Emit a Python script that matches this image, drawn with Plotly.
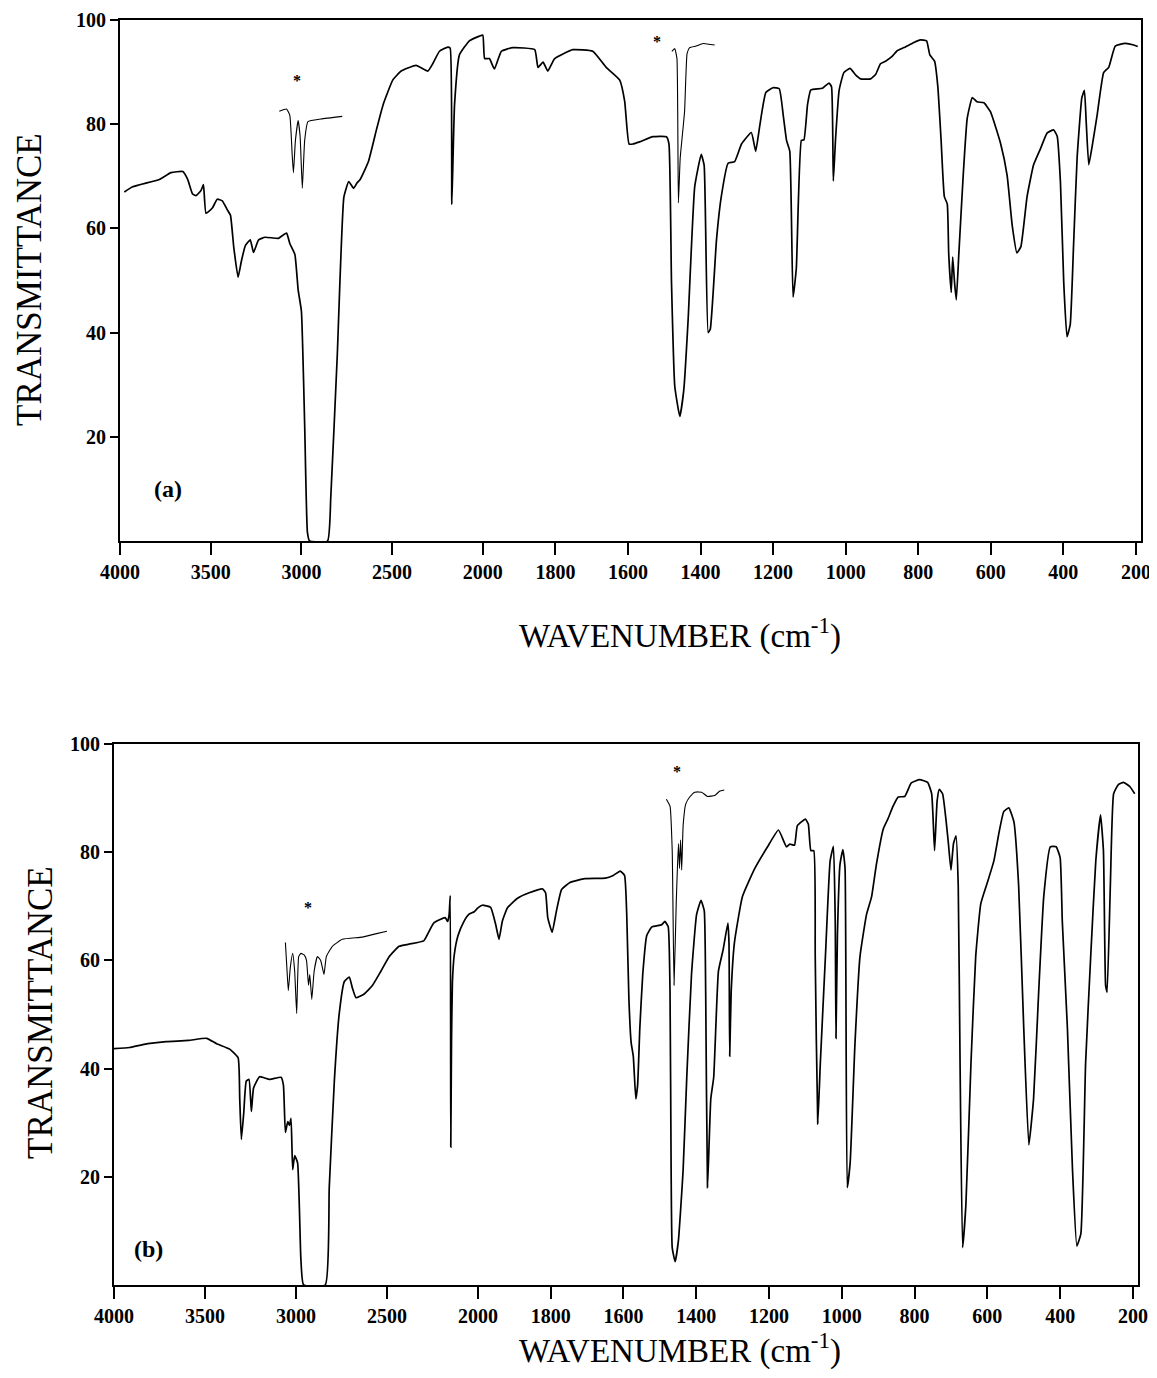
import plotly.graph_objects as go
import numpy as np

# ---------------- DATA ----------------
# Panel (a) main spectrum: wavenumber (cm-1), transmittance (%)
wn_a = [3976, 3930, 3783, 3719, 3654, 3627, 3600, 3581, 3553, 3540, 3526, 3491, 3464, 3436,
        3409, 3391, 3373, 3349, 3331, 3309, 3282, 3264, 3236, 3200, 3127, 3082, 3064, 3036,
        3018, 3000, 2982, 2967, 2955, 2856, 2838, 2802, 2766, 2739, 2712, 2694, 2676, 2631,
        2586, 2550, 2496, 2450, 2368, 2303, 2276, 2239, 2193, 2180, 2171, 2156, 2129, 2074,
        2019, 2000, 1995, 1982, 1968, 1949, 1917, 1857, 1848, 1834, 1821, 1802, 1752, 1697,
        1660, 1623, 1609, 1597, 1586, 1568, 1531, 1494, 1487, 1480, 1471, 1457, 1446, 1434,
        1416, 1398, 1390, 1379, 1373, 1356, 1343, 1324, 1306, 1287, 1260, 1248, 1237, 1220,
        1200, 1183, 1172, 1163, 1154, 1145, 1136, 1122, 1115, 1105, 1096, 1064, 1046, 1039,
        1034, 1028, 1018, 1005, 988, 972, 959, 931, 917, 904, 890, 872, 858, 839, 812, 794,
        777, 768, 755, 746, 737, 728, 720, 716, 709, 705, 700, 695, 688, 676, 665, 651, 638,
        619, 601, 573, 555, 541, 528, 517, 500, 482, 463, 445, 427, 417, 408, 399, 390, 381,
        372, 362, 349, 342, 337, 330, 321, 307, 289, 275, 257, 230, 206, 195]
t_a = [67.0, 68.0, 69.4, 70.7, 70.9, 69.4, 66.6, 66.3, 67.3, 68.4, 62.9, 63.9, 65.6, 65.3,
       63.6, 62.5, 56.4, 50.6, 53.7, 56.7, 57.8, 55.4, 57.8, 58.3, 58.1, 59.1, 57.1, 55.0,
       48.2, 44.1, 22.2, 1.7, 0.0, 0.0, 8.5, 35.9, 66.0, 69.0, 67.7, 68.7, 69.4, 72.8,
       79.0, 83.7, 88.5, 90.2, 91.3, 90.2, 91.6, 94.0, 94.8, 94.6, 64.6, 83.7, 93.3, 96.0,
       96.9, 97.1, 92.6, 92.6, 90.6, 94.0, 94.7, 94.3, 90.9, 91.9, 90.2, 92.6, 94.3, 94.0,
       90.9, 88.5, 84.4, 76.2, 76.2, 76.6, 77.6, 77.6, 76.2, 49.6, 29.7, 23.9, 29.1, 42.7,
       68.0, 74.2, 72.1, 40.0, 40.7, 57.8, 66.0, 72.5, 72.8, 76.2, 78.4, 74.8, 79.6, 86.1,
       87.0, 86.8, 81.7, 76.9, 74.8, 46.8, 52.3, 76.9, 77.0, 83.8, 86.6, 86.9, 87.9, 87.2,
       69.1, 77.0, 86.5, 89.9, 90.7, 89.4, 88.7, 88.7, 89.6, 91.6, 92.1, 93.0, 94.1, 94.7, 95.7, 96.2,
       96.0, 93.3, 92.1, 87.2, 77.0, 66.1, 64.7, 55.2, 47.7, 54.5, 49.7, 46.3, 55.2, 70.2, 81.1, 85.1, 84.3,
       84.1, 82.4, 76.3, 70.2, 60.6, 55.3, 56.5, 66.1, 72.2, 75.3, 78.3, 78.9, 77.7, 68.8, 49.7, 39.2, 41.6,
       56.5, 73.6, 85.1, 86.5, 80.4, 72.2, 75.6, 81.7, 89.9, 90.9, 95.0, 95.5, 95.2, 94.9]

# Panel (a) expanded inserts (marked *)
wn_a_ins1 = [3122, 3082, 3064, 3051, 3044, 3033, 3018, 3007, 2995, 2982, 2964, 2892, 2775]
t_a_ins1 = [82.5, 82.9, 81.7, 74.2, 70.7, 76.9, 80.7, 77.6, 67.7, 76.9, 80.5, 81.0, 81.5]
wn_a_ins2 = [1479, 1471, 1465, 1461, 1456, 1444, 1437, 1430, 1412, 1393, 1361]
t_a_ins2 = [94.0, 94.5, 92.6, 64.9, 73.5, 82.4, 93.6, 94.7, 95.0, 95.5, 95.2]

# Panel (b) main spectrum
wn_b = [4000, 3915, 3814, 3713, 3591, 3491, 3436, 3364, 3318, 3309, 3300, 3287, 3273, 3258,
        3245, 3233, 3200, 3145, 3082, 3069, 3058, 3045, 3036, 3027, 3018, 3007, 2991, 2973,
        2958, 2839, 2817, 2789, 2762, 2734, 2707, 2689, 2670, 2625, 2579, 2533, 2487, 2433,
        2379, 2298, 2280, 2243, 2180, 2166, 2158, 2152, 2149, 2145, 2140, 2130, 2110, 2080,
        2050, 2020, 2000, 1988, 1965, 1951, 1942, 1933, 1919, 1891, 1859, 1822, 1814, 1808,
        1796, 1784, 1770, 1747, 1706, 1650, 1628, 1609, 1597, 1591, 1585, 1579, 1573, 1566,
        1561, 1555, 1547, 1536, 1522, 1495, 1486, 1477, 1472, 1469, 1466, 1458, 1449, 1436,
        1426, 1413, 1399, 1387, 1378, 1374, 1369, 1360, 1352, 1339, 1326, 1313, 1310, 1308,
        1304, 1295, 1273, 1239, 1204, 1174, 1152, 1143, 1130, 1122, 1100, 1092, 1085, 1077,
        1073, 1066, 1059, 1045, 1032, 1023, 1018, 1016, 1012, 1005, 997, 991, 985, 977, 964,
        950, 932, 918, 905, 886, 873, 859, 845, 827, 809, 786, 764, 753, 745, 738, 732, 723,
        714, 707, 700, 693, 686, 680, 675, 668, 659, 645, 632, 618, 600, 582, 568, 555, 541,
        527, 514, 500, 486, 473, 459, 445, 427, 411, 400, 394, 380, 366, 354, 343, 330, 316,
        302, 289, 281, 275, 271, 262, 253, 240, 226, 208, 195]
t_b = [43.7, 43.9, 44.6, 45.0, 45.2, 45.6, 44.6, 43.6, 42.0, 34.4, 26.9, 31.8, 37.7, 38.0,
       32.1, 36.4, 38.5, 38.0, 38.4, 37.0, 28.2, 30.2, 29.5, 30.8, 21.3, 23.9, 22.6, 4.9,
       0.0, 0.0, 18.0, 37.7, 50.2, 56.1, 56.9, 54.8, 53.1, 53.8, 55.4, 58.0, 60.7, 62.6,
       63.0, 63.6, 64.6, 66.9, 67.9, 67.2, 68.5, 72.0, 25.5, 45.0, 56.0, 61.0, 64.5, 67.0,
       68.5, 69.0, 69.7, 70.2, 69.8, 66.6, 63.9, 67.2, 69.7, 71.5, 72.5, 73.2, 72.5, 67.9,
       65.2, 69.2, 73.1, 74.4, 75.1, 75.2, 75.7, 76.5, 75.7, 68.5, 52.8, 44.9, 42.3, 34.4,
       37.0, 47.5, 57.4, 64.6, 66.2, 66.6, 67.2, 66.2, 54.1, 21.3, 6.9, 4.3, 8.2, 21.3,
       38.4, 57.4, 68.5, 71.1, 69.2, 54.1, 18.0, 34.4, 38.4, 58.0, 62.0, 66.9, 63.3, 42.3,
       54.1, 63.3, 71.8, 77.0, 81.0, 84.1, 81.0, 81.5, 81.3, 84.9, 86.1, 85.2, 80.3, 80.3,
       60.7, 29.8, 41.0, 60.7, 78.4, 81.1, 67.2, 45.6, 64.6, 77.7, 80.5, 77.0, 18.0, 22.6, 44.3,
       60.7, 68.5, 71.8, 77.7, 84.3, 86.2, 88.5, 90.2, 90.3, 92.8, 93.4, 92.9, 90.8, 80.3, 89.5, 91.6, 90.8,
       86.2, 81.6, 76.7, 81.6, 83.0, 73.8, 41.0, 6.9, 14.8, 41.0, 60.7, 70.5, 74.4, 78.4, 83.6, 87.5, 88.2,
       85.6, 73.8, 47.5, 25.9, 34.4, 54.1, 71.8, 81.0, 81.0, 79.0, 67.2, 47.5, 21.3, 7.2, 9.5, 41.0, 60.7,
       78.4, 86.9, 80.3, 55.4, 54.1, 73.8, 90.8, 92.5, 92.9, 92.1, 90.8]

# Panel (b) expanded inserts (marked *)
wn_b_ins1 = [3058, 3051, 3042, 3031, 3018, 3007, 2996, 2985, 2973, 2955, 2942, 2931, 2924,
             2913, 2900, 2882, 2864, 2846, 2833, 2800, 2745, 2636, 2563, 2500]
t_b_ins1 = [63.3, 59.3, 54.4, 58.7, 61.3, 58.0, 50.2, 60.7, 61.3, 61.0, 60.0, 55.4, 57.4,
            52.8, 58.0, 60.7, 60.0, 57.4, 60.7, 62.6, 63.9, 64.3, 64.9, 65.4]
wn_b_ins2 = [1482, 1472, 1466, 1461, 1455, 1449, 1446, 1443, 1440, 1436, 1429, 1418, 1404,
             1385, 1369, 1349, 1335, 1323]
t_b_ins2 = [89.8, 88.5, 80.3, 55.4, 70.5, 81.6, 77.0, 82.3, 76.7, 84.9, 88.9, 90.2, 91.1,
            91.1, 90.3, 90.5, 91.3, 91.5]

x_ticks = [4000, 3500, 3000, 2500, 2000, 1800, 1600, 1400, 1200, 1000, 800, 600, 400, 200]
y_ticks = [20, 40, 60, 80, 100]
star_a = [(3027, 88.3), (1520, 95.9)]
star_b = [(2933, 69.7), (1454, 94.9)]


# spectrometer abscissa: 4000-2000 at half the scale of 2000-200
def chart_x(wn):
    wn = np.asarray(wn, dtype=float)
    return np.where(wn >= 2000, (4000 - wn) / 2.0, 1000 + (2000 - wn))


# page body has an 8 px margin: the figure is offset and sized to fit the window
OFF = 8
W, H = 1157 - OFF, 1378 - 2 * OFF


def px(x):  # page x pixel -> paper fraction
    return (x - OFF) / W


def py(y):  # page y pixel -> paper fraction
    return 1 - (y - OFF) / H


FONT = "Liberation Serif"
fig = go.Figure()

line_main = dict(color="black", width=1.7, shape="spline", smoothing=0.4)
line_ins = dict(color="black", width=1.1, shape="spline", smoothing=0.4)

for ax, (wn, t, ins) in enumerate([
        (wn_a, t_a, [(wn_a_ins1, t_a_ins1), (wn_a_ins2, t_a_ins2)]),
        (wn_b, t_b, [(wn_b_ins1, t_b_ins1), (wn_b_ins2, t_b_ins2)])]):
    xa = "x" if ax == 0 else "x2"
    ya = "y" if ax == 0 else "y2"
    fig.add_trace(go.Scatter(x=chart_x(wn), y=t, mode="lines", line=line_main,
                             xaxis=xa, yaxis=ya, showlegend=False, hoverinfo="skip"))
    for iw, it in ins:
        fig.add_trace(go.Scatter(x=chart_x(iw), y=it, mode="lines", line=line_ins,
                                 xaxis=xa, yaxis=ya, showlegend=False, hoverinfo="skip"))

xdom = [[px(120), px(1141)], [px(114), px(1138)]]
ydom = [[py(541), py(20)], [py(1285), py(744)]]

axis_common = dict(showline=True, mirror=True, linecolor="black", linewidth=2,
                   showgrid=False, zeroline=False, ticks="outside", tickcolor="black",
                   tickwidth=2, automargin=False, ticklabeloverflow="allow")
tickfont = dict(family=FONT, size=20, color="black", weight="bold")

layout = dict(template="none", width=W, height=H, margin=dict(l=0, r=0, t=0, b=0),
              paper_bgcolor="white", plot_bgcolor="white", showlegend=False)
for i in range(2):
    xs = "xaxis" if i == 0 else "xaxis2"
    ys = "yaxis" if i == 0 else "yaxis2"
    layout[xs] = dict(axis_common, domain=xdom[i], range=[0, 2814],
                      tickvals=list(chart_x(x_ticks)), ticktext=[str(v) for v in x_ticks],
                      ticklen=12, tickfont=tickfont, anchor="y" if i == 0 else "y2")
    layout[ys] = dict(axis_common, domain=ydom[i], range=[0, 100], tickvals=y_ticks,
                      ticktext=[str(v) for v in y_ticks], ticklen=8, tickfont=tickfont,
                      anchor="x" if i == 0 else "x2")
fig.update_layout(**layout)

ytitle_font = dict(family=FONT, size=35, color="black")
xtitle_font = dict(family=FONT, size=33, color="black")
ctr = dict(xanchor="center", yanchor="middle", showarrow=False)
ann = []
# y-axis titles
ann.append(dict(ctr, x=px(29), y=py(280), xref="paper", yref="paper", text="TRANSMITTANCE",
                textangle=-90, font=ytitle_font))
ann.append(dict(ctr, x=px(40), y=py(1013), xref="paper", yref="paper", text="TRANSMITTANCE",
                textangle=-90, font=ytitle_font))
# x-axis titles
ann.append(dict(ctr, x=px(680), y=py(633), xref="paper", yref="paper",
                text="WAVENUMBER (cm<sup>-1</sup>)", font=xtitle_font))
ann.append(dict(ctr, x=px(680), y=py(1348), xref="paper", yref="paper",
                text="WAVENUMBER (cm<sup>-1</sup>)", font=xtitle_font))
# panel labels
lab_font = dict(family=FONT, size=24, color="black", weight="bold")
ann.append(dict(ctr, x=float(chart_x(3737)), y=9.9, xref="x", yref="y", text="(a)",
                font=lab_font))
ann.append(dict(ctr, x=float(chart_x(3808)), y=6.6, xref="x2", yref="y2", text="(b)",
                font=lab_font))
star_font = dict(family=FONT, size=16, color="black", weight="bold")
for w, t in star_a:
    ann.append(dict(ctr, x=float(chart_x(w)), y=t, xref="x", yref="y", text="*",
                    font=star_font))
for w, t in star_b:
    ann.append(dict(ctr, x=float(chart_x(w)), y=t, xref="x2", yref="y2", text="*",
                    font=star_font))
fig.update_layout(annotations=ann)

fig.write_html("out.html")
